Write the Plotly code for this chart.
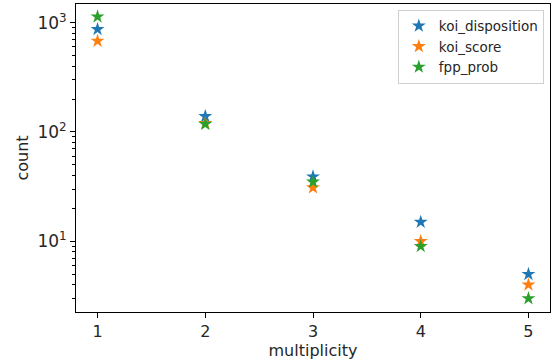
import plotly.graph_objects as go

multiplicity = [1, 2, 3, 4, 5]
koi_disposition = [870, 139, 39, 15, 5]
koi_score = [680, 120, 31, 10, 4]
fpp_prob = [1135, 118, 35, 9, 3]

series = [("koi_disposition", koi_disposition, "#1f77b4"),
          ("koi_score", koi_score, "#ff7f0e"),
          ("fpp_prob", fpp_prob, "#2ca02c")]

fig = go.Figure()
for name, vals, col in series:
    fig.add_trace(go.Scatter(x=multiplicity, y=vals, mode="markers", name=name,
                             marker=dict(symbol="star", size=10.5, color=col,
                                         line=dict(width=0))))

FAM = "DejaVu Sans"
def f(size):
    return dict(family=FAM, size=size, color="#262626")

minor_vals = [m * 10 ** e for e in range(0, 4) for m in range(2, 10)]
fig.update_layout(
    width=552, height=364,
    margin=dict(l=76, r=2, t=4, b=52),
    plot_bgcolor="white", paper_bgcolor="white",
    font=f(16),
    showlegend=True,
    legend=dict(x=0.987, y=0.982, xanchor="right", yanchor="top",
                bordercolor="#d0d0d0", borderwidth=1, bgcolor="rgba(255,255,255,0.8)",
                font=f(13.5), tracegroupgap=0),
    xaxis=dict(range=[0.8, 5.2], tickvals=multiplicity, ticks="outside", ticklen=5,
               tickcolor="black", showline=True, linecolor="black", linewidth=1,
               mirror=True, showgrid=False, zeroline=False,
               tickfont=f(16),
               title=dict(text="multiplicity", standoff=2, font=f(16))),
    yaxis=dict(type="log", range=[0.353, 3.171], tickvals=[10, 100, 1000],
               ticktext=["10<sup>1</sup>", "10<sup>2</sup>", "10<sup>3</sup>"],
               ticks="outside", ticklen=5, tickcolor="black",
               showline=True, linecolor="black", linewidth=1, mirror=True,
               showgrid=False, zeroline=False, tickfont=f(17),
               minor=dict(tickvals=minor_vals, ticks="outside", ticklen=3,
                          tickcolor="black", showgrid=False),
               title=dict(text="count", standoff=4, font=f(16))),
)

fig.write_html("out.html")
